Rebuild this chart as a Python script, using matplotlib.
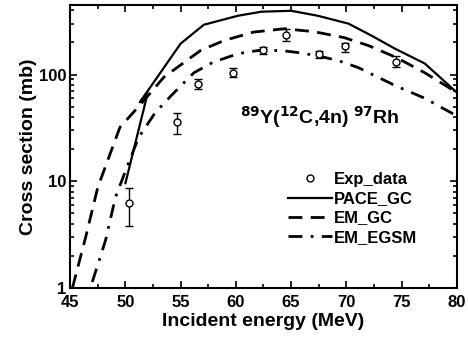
import numpy as np
import matplotlib
matplotlib.use("Agg")
import matplotlib.pyplot as plt
from matplotlib.lines import Line2D
from matplotlib.ticker import FixedLocator, NullFormatter, LogLocator

plt.rcParams['font.family'] = ['Liberation Sans', 'DejaVu Sans']
plt.rcParams['font.weight'] = 'bold'

# experimental data
exp_e = [50.3, 54.7, 56.6, 59.7, 62.5, 64.5, 67.5, 69.9, 74.5]
exp_y = [6.2, 36, 82, 104, 171, 237, 157, 187, 132]
exp_hi = [8.6, 44, 90, 116, 180, 269, 168, 199, 150]
exp_lo = [3.8, 28, 74, 94, 156, 208, 144, 161, 117]

# PACE_GC
pace_e = [50.0, 52.0, 51.3, 55.0, 57.1, 60.2, 62.3, 65.0, 67.4, 70.2, 72.3, 74.4, 77.1, 80.0]
pace_y = [9.6, 66, 55, 195, 293, 356, 388, 396, 356, 300, 231, 175, 127, 68]

# EM_GC
emgc_e = [45.2, 46.4, 47.5, 49.5, 51.4, 53.5, 56.8, 58.9, 61.6, 64.4, 67.1, 69.8, 72.0, 74.5, 77.1, 80.0]
emgc_y = [1.0, 3.0, 8.8, 32, 53, 95, 168, 208, 250, 269, 252, 222, 187, 145, 104, 68]

# EM_EGSM
egsm_e = [47.0, 48.2, 49.1, 50.2, 51.2, 52.7, 54.3, 56.2, 57.9, 60.2, 62.0, 64.1, 65.6, 67.4, 69.3, 71.1, 74.4, 77.1, 80.0]
egsm_y = [1.14, 2.8, 7.1, 14.1, 25.8, 44, 66, 104, 130, 157, 168, 168, 161, 150, 135, 116, 79, 60, 41]

fig = plt.figure(figsize=(4.68, 3.47), dpi=100)
ax = fig.add_axes([0.150, 0.170, 0.826, 0.816])

l1, = ax.plot(pace_e, pace_y, color='black', lw=1.6, ls='-', label='PACE_GC')
l2, = ax.plot(emgc_e, emgc_y, color='black', lw=2.0, dashes=(5, 3), label='EM_GC')
l3, = ax.plot(egsm_e, egsm_y, color='black', lw=2.0, dashes=(5, 3, 1, 3), label='EM_EGSM')

exp_y_a = np.array(exp_y)
yerr = [exp_y_a - np.array(exp_lo), np.array(exp_hi) - exp_y_a]
ax.errorbar(exp_e, exp_y, yerr=yerr, fmt='o', mfc='white', mec='black', ms=5,
            ecolor='black', elinewidth=1.0, capsize=3, capthick=1.0)
h0 = Line2D([], [], ls='none', marker='o', mfc='white', mec='black', ms=5)

ax.set_yscale('log')
ax.set_xlim(45, 80)
ax.set_ylim(1, 450)

ax.xaxis.set_major_locator(FixedLocator([45, 50, 55, 60, 65, 70, 75, 80]))
ax.xaxis.set_minor_locator(FixedLocator(np.arange(47.5, 80, 5)))
ax.yaxis.set_major_locator(FixedLocator([1, 10, 100]))
ax.yaxis.set_minor_locator(LogLocator(base=10, subs=np.arange(2, 10)))
ax.yaxis.set_minor_formatter(NullFormatter())
ax.set_yticklabels(['1', '10', '100'])

ax.tick_params(which='both', direction='in', top=True, right=True, width=1.2)
ax.tick_params(which='major', length=5, labelsize=12)
ax.tick_params(axis='x', pad=5)
ax.tick_params(axis='y', pad=3)
ax.tick_params(which='minor', length=3)
for lab in ax.get_xticklabels() + ax.get_yticklabels():
    lab.set_fontweight('bold')
for sp in ax.spines.values():
    sp.set_linewidth(1.5)

ax.set_xlabel('Incident energy (MeV)', fontsize=14, fontweight='bold', labelpad=2)
ax.set_ylabel('Cross section (mb)', fontsize=14, fontweight='bold', labelpad=1)

ax.text(0.645, 0.605, r'$^{\mathbf{89}}$Y($^{\mathbf{12}}$C,4n) $^{\mathbf{97}}$Rh',
        transform=ax.transAxes, ha='center', va='center', fontsize=14, fontweight='bold')

leg = ax.legend([h0, l1, l2, l3], ['Exp_data', 'PACE_GC', 'EM_GC', 'EM_EGSM'], loc='lower right',
                bbox_to_anchor=(0.935, 0.10), frameon=False, fontsize=12,
                handlelength=2.6, handletextpad=0.1, labelspacing=0.25)
for t in leg.get_texts():
    t.set_fontweight('bold')

fig.savefig('out.png', dpi=100)
